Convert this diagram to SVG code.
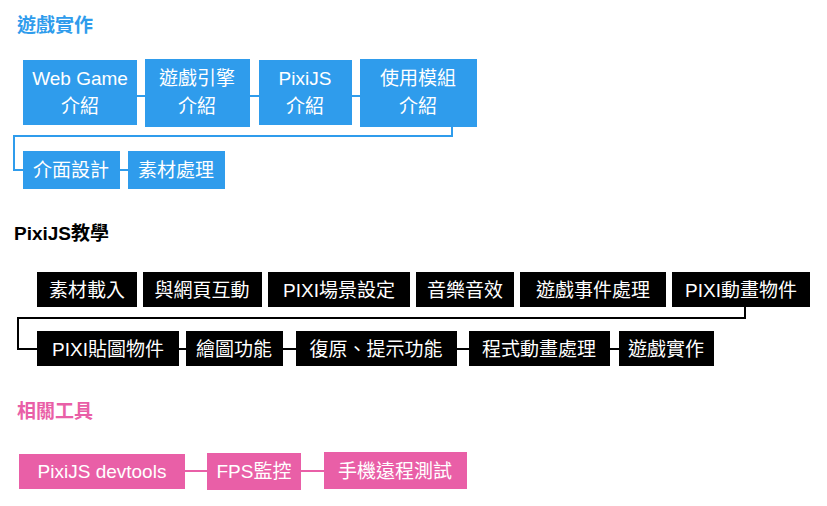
<svg xmlns="http://www.w3.org/2000/svg" width="827" height="506" viewBox="0 0 827 506">
<style>
text{font-family:"Liberation Sans","Noto Sans CJK TC",sans-serif;text-anchor:middle}
.b rect{fill:#2f9cec}.b text{fill:#fff;font-size:19px}
.k rect{fill:#000}.k text{fill:#fff;font-size:19px}
.p rect{fill:#e95fa7}.p text{fill:#fff;font-size:19px}
.h{font-size:19px;font-weight:bold;text-anchor:start}
.c path{fill:none;stroke-width:2}
</style>
<rect width="827" height="506" fill="#fff"/>
<text class="h" x="17" y="32" fill="#2f9cec">遊戲實作</text>
<text class="h" x="14" y="240" fill="#000">PixiJS教學</text>
<text class="h" x="17" y="418" fill="#e95fa7">相關工具</text>
<g class="c">
<path stroke="#2f9cec" d="M137 96H145M250 96H259M352 96H360M452 127V136H14V170H23M120 170H128"/>
<path stroke="#000" d="M745 307V318H18V349H37M179 349H186M283 349H296M457 349H469M610 349H619"/>
<path stroke="#e95fa7" d="M185 471H207M301 471H324"/>
</g>
<g class="b">
<g id="n1"><rect x="23" y="60" width="114" height="65"/><text x="80" y="85">Web Game</text><text x="80" y="113">介紹</text></g>
<g id="n2"><rect x="145" y="59" width="105" height="68"/><text x="197" y="85">遊戲引擎</text><text x="197" y="113">介紹</text></g>
<g id="n3"><rect x="259" y="60" width="93" height="65"/><text x="305" y="85">PixiJS</text><text x="305" y="113">介紹</text></g>
<g id="n4"><rect x="360" y="59" width="117" height="68"/><text x="418" y="85">使用模組</text><text x="418" y="113">介紹</text></g>
<g id="n5"><rect x="23" y="151" width="97" height="38"/><text x="71" y="177">介面設計</text></g>
<g id="n6"><rect x="128" y="151" width="97" height="38"/><text x="176" y="177">素材處理</text></g>
</g>
<g class="k">
<g id="m1"><rect x="37" y="272" width="100" height="35"/><text x="87" y="297">素材載入</text></g>
<g id="m2"><rect x="143" y="272" width="119" height="35"/><text x="202" y="297">與網頁互動</text></g>
<g id="m3"><rect x="268" y="272" width="142" height="35"/><text x="339" y="297">PIXI場景設定</text></g>
<g id="m4"><rect x="416" y="272" width="98" height="35"/><text x="465" y="297">音樂音效</text></g>
<g id="m5"><rect x="520" y="272" width="146" height="35"/><text x="593" y="297">遊戲事件處理</text></g>
<g id="m6"><rect x="672" y="272" width="138" height="35"/><text x="741" y="297">PIXI動畫物件</text></g>
<g id="m7"><rect x="37" y="331" width="142" height="35"/><text x="108" y="356">PIXI貼圖物件</text></g>
<g id="m8"><rect x="186" y="331" width="97" height="35"/><text x="234" y="356">繪圖功能</text></g>
<g id="m9"><rect x="296" y="331" width="161" height="35"/><text x="376" y="356">復原、提示功能</text></g>
<g id="m10"><rect x="469" y="331" width="141" height="35"/><text x="539" y="356">程式動畫處理</text></g>
<g id="m11"><rect x="619" y="331" width="95" height="35"/><text x="666" y="356">遊戲實作</text></g>
</g>
<g class="p">
<g id="t1"><rect x="19" y="454" width="166" height="35"/><text x="102" y="478">PixiJS devtools</text></g>
<g id="t2"><rect x="207" y="453" width="94" height="37"/><text x="254" y="478">FPS監控</text></g>
<g id="t3"><rect x="324" y="452" width="143" height="37"/><text x="395" y="478">手機遠程測試</text></g>
</g>
</svg>
